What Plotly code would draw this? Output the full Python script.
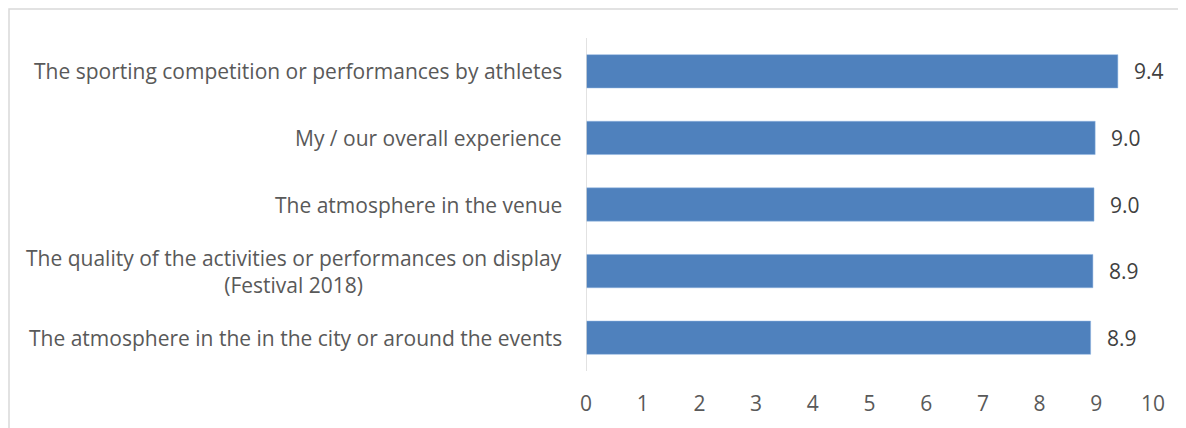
import plotly.graph_objects as go

categories = [
    "The sporting competition or performances by athletes",
    "My / our overall experience",
    "The atmosphere in the venue",
    "The quality of the activities or performances on display<br>(Festival 2018)",
    "The atmosphere in the in the city or around the events",
]
values = [9.38, 8.98, 8.96, 8.94, 8.90]
value_labels = ["9.4", "9.0", "9.0", "8.9", "8.9"]
x_ticks = [0, 1, 2, 3, 4, 5, 6, 7, 8, 9, 10]

ids = list(range(len(categories)))
FONT = "Open Sans"
FS = 21
W, H = 1178, 420
L, R, T, B = 578, 33, 30, 57
PW, PH = W - L - R, H - T - B

fig = go.Figure(go.Bar(
    y=ids, x=values, orientation="h",
    marker=dict(color="#4F81BD", line=dict(color="#8EB4E3", width=0.5)),
    width=0.5, hoverinfo="skip",
))

for i, (c, v, t) in enumerate(zip(categories, values, value_labels)):
    fig.add_annotation(x=0, y=i, xref="x", yref="y", text=c, showarrow=False,
                       xanchor="right", align="center", xshift=-22,
                       font=dict(family=FONT, size=FS, color="#595959"))
    fig.add_annotation(x=v, y=i, xref="x", yref="y", text=t, showarrow=False,
                       xanchor="left", xshift=14,
                       font=dict(family=FONT, size=FS, color="#404040"))

# outer chart border (top and left edges visible)
fig.add_shape(type="rect", xref="paper", yref="paper",
              x0=-(L - 1) / PW, x1=1 + (R + 20) / PW,
              y0=-(B + 20) / PH, y1=1 + (T - 1) / PH, layer="below",
              line=dict(color="#D9D9D9", width=1.5))

fig.update_layout(
    width=W, height=H,
    margin=dict(l=L, r=R, t=T, b=B),
    paper_bgcolor="white", plot_bgcolor="white",
    showlegend=False,
    xaxis=dict(range=[0, 10], tickvals=x_ticks, showgrid=False, zeroline=False,
               showline=False, ticks="", ticklen=0, ticklabelstandoff=18,
               tickfont=dict(family=FONT, size=FS, color="#595959")),
    yaxis=dict(range=[4.5, -0.5], showticklabels=False, showgrid=False,
               zeroline=False, showline=False, ticks=""),
)
fig.add_shape(type="line", xref="x", yref="paper", x0=0, x1=0, y0=0, y1=1,
              line=dict(color="#D9D9D9", width=1.5))

fig.write_html("out.html")
